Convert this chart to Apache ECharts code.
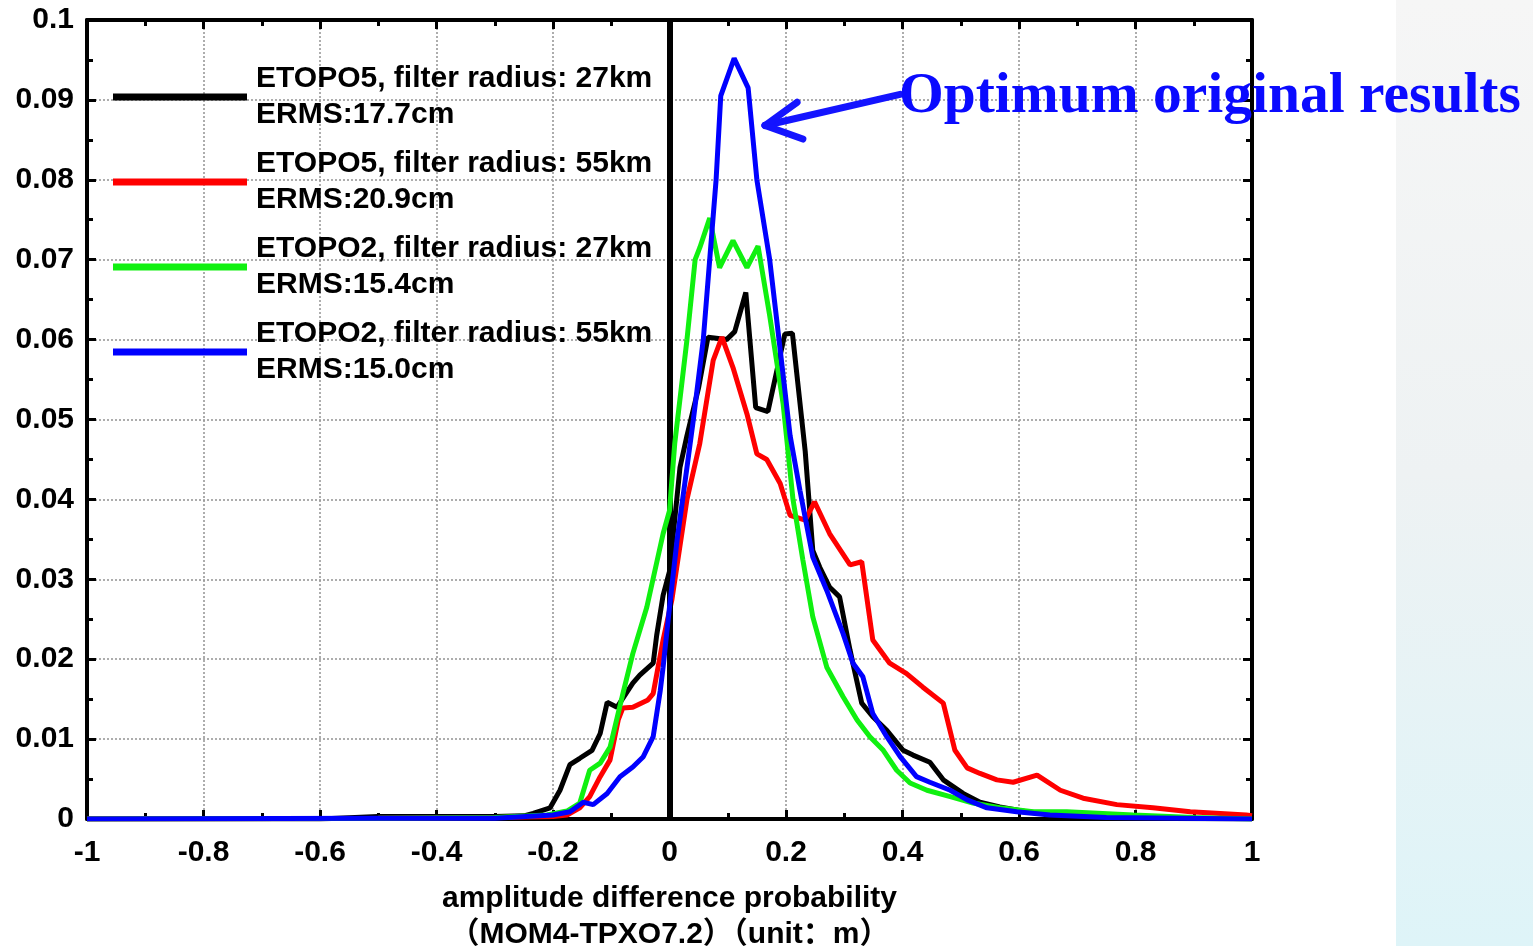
<!DOCTYPE html>
<html>
<head>
<meta charset="utf-8">
<script src="https://cdn.jsdelivr.net/npm/echarts@6/dist/echarts.min.js"></script>
<style>
html,body{margin:0;padding:0;background:#fff;}
#chart{width:1533px;height:946px;}
</style>
</head>
<body>
<div id="chart"></div>
<script>
// ---- data (x: amplitude difference in m, y: probability) ----
const etopo5_27km = [[-1,0],[-0.6,0],[-0.5,0.0003],[-0.4,0.0003],[-0.3,0.0003],[-0.25,0.0004],[-0.234,0.0007],[-0.205,0.0014],[-0.188,0.0036],[-0.171,0.0068],[-0.154,0.0076],[-0.133,0.0086],[-0.119,0.0107],[-0.107,0.0146],[-0.09,0.014],[-0.063,0.017],[-0.051,0.018],[-0.028,0.0195],[-0.022,0.023],[-0.011,0.028],[0,0.031],[0.018,0.044],[0.03,0.048],[0.05,0.054],[0.066,0.0603],[0.098,0.060],[0.112,0.061],[0.131,0.0659],[0.148,0.0515],[0.169,0.051],[0.198,0.0607],[0.211,0.0608],[0.233,0.046],[0.246,0.0336],[0.258,0.0315],[0.275,0.029],[0.292,0.0278],[0.31,0.0211],[0.33,0.0145],[0.349,0.0128],[0.373,0.0111],[0.401,0.0086],[0.418,0.008],[0.447,0.0071],[0.47,0.0049],[0.504,0.0032],[0.533,0.0021],[0.567,0.0015],[0.613,0.0009],[0.7,0.0003],[0.8,0.0001],[1,0]];
const etopo5_55km = [[-1,0],[-0.5,0.0001],[-0.3,0.0002],[-0.2,0.0003],[-0.176,0.0005],[-0.154,0.0014],[-0.137,0.0028],[-0.119,0.0053],[-0.102,0.0074],[-0.088,0.0124],[-0.08,0.0139],[-0.063,0.014],[-0.037,0.0149],[-0.028,0.0157],[-0.011,0.0224],[0.004,0.0274],[0.03,0.040],[0.052,0.047],[0.075,0.0574],[0.09,0.0603],[0.109,0.0565],[0.133,0.0507],[0.15,0.0457],[0.167,0.045],[0.19,0.042],[0.207,0.038],[0.233,0.0374],[0.249,0.0397],[0.275,0.0357],[0.31,0.0318],[0.33,0.0322],[0.349,0.0224],[0.378,0.0195],[0.407,0.0182],[0.435,0.0165],[0.47,0.0145],[0.49,0.0086],[0.511,0.0064],[0.533,0.0057],[0.562,0.0049],[0.59,0.0046],[0.631,0.0055],[0.671,0.0036],[0.71,0.0026],[0.768,0.0018],[0.83,0.0014],[0.894,0.0009],[0.99,0.0005],[1,0.0004]];
const etopo2_27km = [[-1,0],[-0.5,0.0001],[-0.3,0.0002],[-0.21,0.0005],[-0.176,0.001],[-0.154,0.002],[-0.137,0.0061],[-0.119,0.007],[-0.102,0.009],[-0.08,0.0157],[-0.063,0.0207],[-0.039,0.0265],[-0.011,0.0357],[0,0.0386],[0.009,0.047],[0.03,0.060],[0.044,0.070],[0.052,0.0715],[0.069,0.0752],[0.086,0.069],[0.109,0.0724],[0.133,0.069],[0.152,0.0717],[0.172,0.063],[0.195,0.052],[0.212,0.040],[0.229,0.0324],[0.246,0.0253],[0.27,0.019],[0.298,0.0153],[0.322,0.0124],[0.344,0.0103],[0.367,0.0086],[0.39,0.0061],[0.413,0.0045],[0.442,0.0036],[0.482,0.0028],[0.521,0.002],[0.567,0.0014],[0.624,0.0009],[0.682,0.0009],[0.796,0.0005],[0.9,0.0002],[1,0]];
const etopo2_55km = [[-1,0],[-0.5,0.0001],[-0.3,0.0001],[-0.2,0.0005],[-0.171,0.0009],[-0.148,0.0021],[-0.131,0.0018],[-0.107,0.0032],[-0.085,0.0053],[-0.063,0.0065],[-0.045,0.0078],[-0.028,0.0103],[-0.016,0.016],[-0.011,0.019],[0,0.0265],[0.013,0.0349],[0.03,0.044],[0.041,0.050],[0.058,0.060],[0.069,0.070],[0.08,0.08],[0.088,0.0905],[0.111,0.0952],[0.135,0.0915],[0.15,0.08],[0.172,0.07],[0.188,0.06],[0.207,0.048],[0.224,0.0411],[0.246,0.0328],[0.27,0.0286],[0.298,0.0232],[0.315,0.0195],[0.332,0.0178],[0.349,0.0132],[0.373,0.0103],[0.396,0.0078],[0.424,0.0053],[0.447,0.0046],[0.482,0.0036],[0.511,0.0024],[0.545,0.0014],[0.596,0.0009],[0.653,0.0005],[0.75,0.0002],[1,0]];

const seriesNames = [
  'ETOPO5, filter radius: 27km\nERMS:17.7cm',
  'ETOPO5, filter radius: 55km\nERMS:20.9cm',
  'ETOPO2, filter radius: 27km\nERMS:15.4cm',
  'ETOPO2, filter radius: 55km\nERMS:15.0cm'
];
const seriesData = [etopo5_27km, etopo5_55km, etopo2_27km, etopo2_55km];
const seriesColors = ['#000000', '#ff0000', '#10f010', '#0000ff'];

const xTicks = {min: -1, max: 1, interval: 0.2};
const yTicks = {min: 0, max: 0.1, interval: 0.01};
const xAxisTitle = 'amplitude difference probability\n（MOM4-TPXO7.2）（unit：m）';
const annotationText = 'Optimum original results';
// arrow annotation in data coordinates: shaft start, tip, wing ends
const arrowShaft = [[0.396, 0.0907], [0.164, 0.0868]];
const arrowWingA = [[0.219, 0.0897], [0.164, 0.0868]];
const arrowWingB = [[0.229, 0.0851], [0.164, 0.0868]];

const FONT = '"Liberation Sans", Arial, "Noto Sans CJK SC", sans-serif';
const chart = echarts.init(document.getElementById('chart'));

const gridLine = {show: true, lineStyle: {color: '#999', width: 1.6, type: [2, 2]}};
const labelStyle = {color: '#000', fontFamily: FONT, fontWeight: 'bold', fontSize: 30};

function xAxisCfg(pos, withLabels) {
  return {
    type: 'value', position: pos, min: xTicks.min, max: xTicks.max, interval: xTicks.interval,
    axisLine: {show: true, onZero: false, lineStyle: {color: '#000', width: 4}},
    axisTick: {show: true, inside: true, length: 9, lineStyle: {color: '#000', width: 3}},
    minorTick: {show: true, splitNumber: 2, length: 6, lineStyle: {color: '#000', width: 3}},
    axisLabel: withLabels ? Object.assign({margin: 19}, labelStyle) : {show: false},
    splitLine: withLabels ? gridLine : {show: false},
    name: withLabels ? xAxisTitle : '',
    nameLocation: 'middle', nameGap: 62,
    nameTextStyle: {color: '#000', fontFamily: FONT, fontWeight: 'bold', fontSize: 30, lineHeight: 36}
  };
}
function yAxisCfg(pos, withLabels) {
  return {
    type: 'value', position: pos, min: yTicks.min, max: yTicks.max, interval: yTicks.interval,
    axisLine: {show: true, onZero: false, lineStyle: {color: '#000', width: 4}},
    axisTick: {show: true, inside: true, length: 9, lineStyle: {color: '#000', width: 3}},
    minorTick: {show: true, splitNumber: 2, length: 6, lineStyle: {color: '#000', width: 3}},
    axisLabel: withLabels ? Object.assign({margin: 13}, labelStyle) : {show: false},
    splitLine: withLabels ? gridLine : {show: false}
  };
}

const series = seriesData.map((d, i) => ({
  name: seriesNames[i], type: 'line', data: d, xAxisIndex: 0, yAxisIndex: 0,
  showSymbol: false, symbol: 'none', smooth: false,
  lineStyle: {color: seriesColors[i], width: 5}, itemStyle: {color: seriesColors[i]},
  z: 3 + i
}));

const arrowStyle = {color: '#1414ff', width: 7, type: 'solid', cap: 'round'};
series.push({
  type: 'line', data: [], xAxisIndex: 0, yAxisIndex: 0, z: 10, silent: true,
  markLine: {
    silent: true, symbol: 'none', animation: false,
    label: {show: false},
    emphasis: {disabled: true},
    data: [
      [{coord: [0, yTicks.min], lineStyle: {color: '#000', width: 6, type: 'solid'}}, {coord: [0, yTicks.max]}],
      [{coord: arrowShaft[0], lineStyle: arrowStyle}, {coord: arrowShaft[1]}],
      [{coord: arrowWingA[0], lineStyle: arrowStyle}, {coord: arrowWingA[1]}],
      [{coord: arrowWingB[0], lineStyle: arrowStyle}, {coord: arrowWingB[1]}]
    ]
  }
});

chart.setOption({
  animation: false,
  backgroundColor: '#ffffff',
  grid: {left: 87, right: 281, top: 20, bottom: 127, containLabel: false, outerBoundsMode: 'none'},
  graphic: [{
    type: 'rect', left: 1396, top: 0, z: -10, silent: true,
    shape: {width: 137, height: 946},
    style: {fill: new echarts.graphic.LinearGradient(0, 0, 0, 1, [
      {offset: 0, color: '#f6f6f6'}, {offset: 0.5, color: '#eef2f3'}, {offset: 1, color: '#def4f8'}
    ])}
  }],
  title: {
    text: annotationText, left: 894, top: 64, z: 12,
    textStyle: {color: '#0a0aff', fontFamily: '"Liberation Serif", "Times New Roman", serif', fontWeight: 'bold', fontSize: 57.5, lineHeight: 57}
  },
  legend: {
    data: seriesNames, orient: 'vertical', left: 108, top: 56,
    itemWidth: 134, itemHeight: 7, itemGap: 13, icon: 'rect',
    textStyle: {color: '#000', fontFamily: FONT, fontWeight: 'bold', fontSize: 30, lineHeight: 36, padding: [0, 0, 0, 4]},
    selectedMode: false
  },
  xAxis: [xAxisCfg('bottom', true), xAxisCfg('top', false)],
  yAxis: [yAxisCfg('left', true), yAxisCfg('right', false)],
  series: series
});
</script>
</body>
</html>
